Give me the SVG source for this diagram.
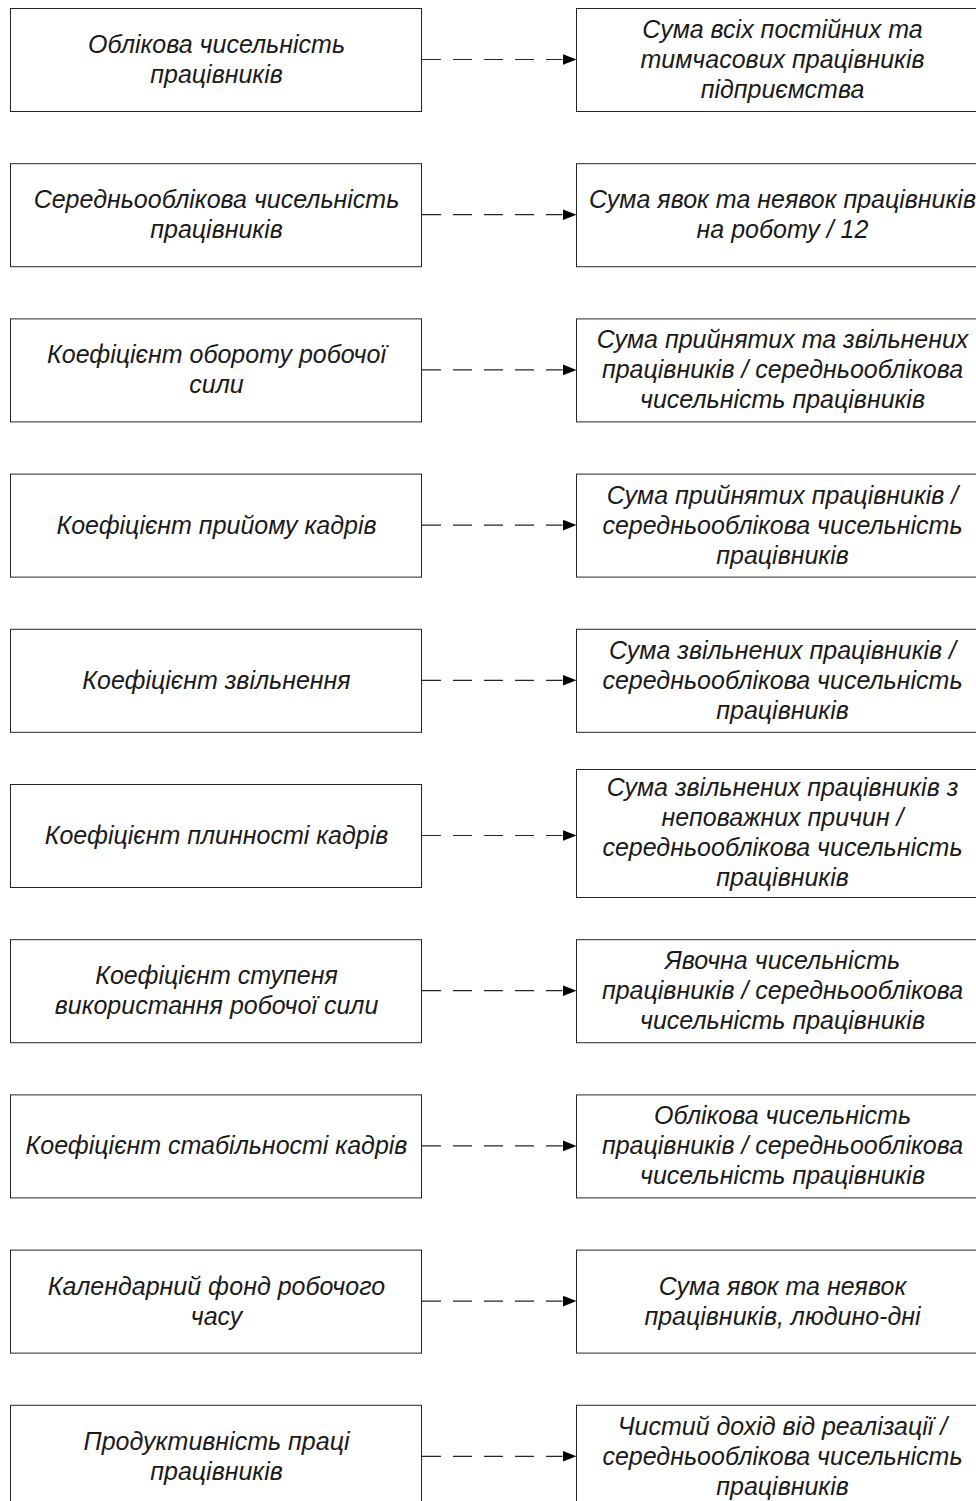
<svg xmlns="http://www.w3.org/2000/svg" width="976" height="1501" viewBox="0 0 976 1501">
<defs>
<style>
.box{fill:#ffffff;stroke:#262626;stroke-width:1}
.t{font-family:"Liberation Sans",Arial,sans-serif;font-style:italic;font-size:25px;fill:#1a1a1a;text-anchor:middle}
.c{fill:none;stroke:#262626;stroke-width:1.2;stroke-dasharray:19 12}
</style>
<marker id="arr" markerUnits="userSpaceOnUse" markerWidth="15" markerHeight="12" refX="0" refY="5.5" orient="auto">
<path d="M0,0 L14,5.5 L0,11 z" fill="#000000"/>
</marker>
</defs>
<rect width="976" height="1501" fill="#ffffff"/>

<g id="connectors">
<path class="c" d="M422,59.5 H562.5" marker-end="url(#arr)"/>
<path class="c" d="M422,214.7 H562.5" marker-end="url(#arr)"/>
<path class="c" d="M422,369.9 H562.5" marker-end="url(#arr)"/>
<path class="c" d="M422,525.1 H562.5" marker-end="url(#arr)"/>
<path class="c" d="M422,680.3 H562.5" marker-end="url(#arr)"/>
<path class="c" d="M422,835.5 H562.5" marker-end="url(#arr)"/>
<path class="c" d="M422,990.7 H562.5" marker-end="url(#arr)"/>
<path class="c" d="M422,1145.9 H562.5" marker-end="url(#arr)"/>
<path class="c" d="M422,1301.1 H562.5" marker-end="url(#arr)"/>
<path class="c" d="M422,1456.3 H562.5" marker-end="url(#arr)"/>
</g>

<g id="L1" transform="translate(0,8)"><rect class="box" x="10.5" y="0.5" width="411" height="103"/><text class="t"><tspan x="216.5" y="45">Облікова чисельність</tspan><tspan x="216.5" y="75">працівників</tspan></text></g>
<g id="R1" transform="translate(0,8)"><rect class="box" x="576.5" y="0.5" width="411" height="103"/><text class="t"><tspan x="782.5" y="30">Сума всіх постійних та</tspan><tspan x="782.5" y="60">тимчасових працівників</tspan><tspan x="782.5" y="90">підприємства</tspan></text></g>

<g id="L2" transform="translate(0,163.2)"><rect class="box" x="10.5" y="0.5" width="411" height="103"/><text class="t"><tspan x="216.5" y="45">Середньооблікова чисельність</tspan><tspan x="216.5" y="75">працівників</tspan></text></g>
<g id="R2" transform="translate(0,163.2)"><rect class="box" x="576.5" y="0.5" width="411" height="103"/><text class="t"><tspan x="782.5" y="45">Сума явок та неявок працівників</tspan><tspan x="782.5" y="75">на роботу / 12</tspan></text></g>

<g id="L3" transform="translate(0,318.4)"><rect class="box" x="10.5" y="0.5" width="411" height="103"/><text class="t"><tspan x="216.5" y="45">Коефіцієнт обороту робочої</tspan><tspan x="216.5" y="75">сили</tspan></text></g>
<g id="R3" transform="translate(0,318.4)"><rect class="box" x="576.5" y="0.5" width="411" height="103"/><text class="t"><tspan x="782.5" y="30">Сума прийнятих та звільнених</tspan><tspan x="782.5" y="60">працівників / середньооблікова</tspan><tspan x="782.5" y="90">чисельність працівників</tspan></text></g>

<g id="L4" transform="translate(0,473.6)"><rect class="box" x="10.5" y="0.5" width="411" height="103"/><text class="t"><tspan x="216.5" y="60">Коефіцієнт прийому кадрів</tspan></text></g>
<g id="R4" transform="translate(0,473.6)"><rect class="box" x="576.5" y="0.5" width="411" height="103"/><text class="t"><tspan x="782.5" y="30">Сума прийнятих працівників /</tspan><tspan x="782.5" y="60">середньооблікова чисельність</tspan><tspan x="782.5" y="90">працівників</tspan></text></g>

<g id="L5" transform="translate(0,628.8)"><rect class="box" x="10.5" y="0.5" width="411" height="103"/><text class="t"><tspan x="216.5" y="60">Коефіцієнт звільнення</tspan></text></g>
<g id="R5" transform="translate(0,628.8)"><rect class="box" x="576.5" y="0.5" width="411" height="103"/><text class="t"><tspan x="782.5" y="30">Сума звільнених працівників /</tspan><tspan x="782.5" y="60">середньооблікова чисельність</tspan><tspan x="782.5" y="90">працівників</tspan></text></g>

<g id="L6" transform="translate(0,784)"><rect class="box" x="10.5" y="0.5" width="411" height="103"/><text class="t"><tspan x="216.5" y="60">Коефіцієнт плинності кадрів</tspan></text></g>
<g id="R6" transform="translate(0,769)"><rect class="box" x="576.5" y="0.5" width="411" height="128"/><text class="t"><tspan x="782.5" y="27">Сума звільнених працівників з</tspan><tspan x="782.5" y="57">неповажних причин /</tspan><tspan x="782.5" y="87">середньооблікова чисельність</tspan><tspan x="782.5" y="117">працівників</tspan></text></g>

<g id="L7" transform="translate(0,939.2)"><rect class="box" x="10.5" y="0.5" width="411" height="103"/><text class="t"><tspan x="216.5" y="45">Коефіцієнт ступеня</tspan><tspan x="216.5" y="75">використання робочої сили</tspan></text></g>
<g id="R7" transform="translate(0,939.2)"><rect class="box" x="576.5" y="0.5" width="411" height="103"/><text class="t"><tspan x="782.5" y="30">Явочна чисельність</tspan><tspan x="782.5" y="60">працівників / середньооблікова</tspan><tspan x="782.5" y="90">чисельність працівників</tspan></text></g>

<g id="L8" transform="translate(0,1094.4)"><rect class="box" x="10.5" y="0.5" width="411" height="103"/><text class="t"><tspan x="216.5" y="60">Коефіцієнт стабільності кадрів</tspan></text></g>
<g id="R8" transform="translate(0,1094.4)"><rect class="box" x="576.5" y="0.5" width="411" height="103"/><text class="t"><tspan x="782.5" y="30">Облікова чисельність</tspan><tspan x="782.5" y="60">працівників / середньооблікова</tspan><tspan x="782.5" y="90">чисельність працівників</tspan></text></g>

<g id="L9" transform="translate(0,1249.6)"><rect class="box" x="10.5" y="0.5" width="411" height="103"/><text class="t"><tspan x="216.5" y="45">Календарний фонд робочого</tspan><tspan x="216.5" y="75">часу</tspan></text></g>
<g id="R9" transform="translate(0,1249.6)"><rect class="box" x="576.5" y="0.5" width="411" height="103"/><text class="t"><tspan x="782.5" y="45">Сума явок та неявок</tspan><tspan x="782.5" y="75">працівників, людино-дні</tspan></text></g>

<g id="L10" transform="translate(0,1404.8)"><rect class="box" x="10.5" y="0.5" width="411" height="103"/><text class="t"><tspan x="216.5" y="45">Продуктивність праці</tspan><tspan x="216.5" y="75">працівників</tspan></text></g>
<g id="R10" transform="translate(0,1404.8)"><rect class="box" x="576.5" y="0.5" width="411" height="103"/><text class="t"><tspan x="782.5" y="30">Чистий дохід від реалізації /</tspan><tspan x="782.5" y="60">середньооблікова чисельність</tspan><tspan x="782.5" y="90">працівників</tspan></text></g>
</svg>
